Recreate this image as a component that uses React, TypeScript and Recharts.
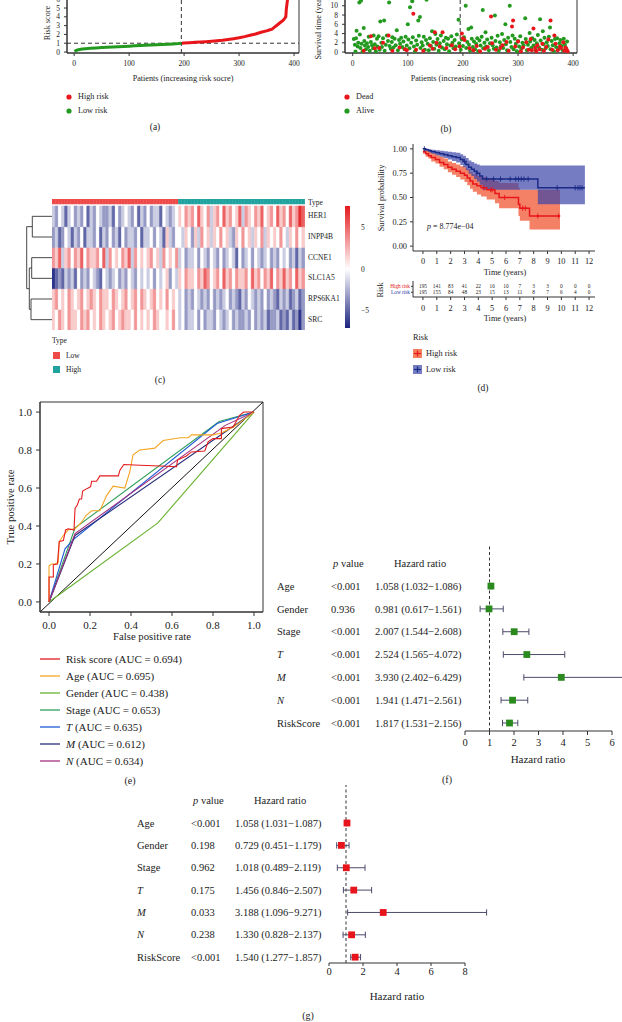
import React from 'react';
import {
  ComposedChart, BarChart, Bar, Cell, Line, Area, Scatter,
  XAxis, YAxis, ReferenceLine, ReferenceArea,
} from 'recharts';

const FONT = "'Liberation Serif', 'DejaVu Serif', 'Times New Roman', serif";
const INK = '#333';
const TXT = '#222';
const RED = '#E8151B';
const GREEN = '#239A1F';

// ---------- (a) risk score per patient (sorted) ----------
const riskLow: [number, number][] = [
  [1, 0.05], [3, 0.16], [6, 0.23], [10, 0.29], [15, 0.34], [20, 0.38], [30, 0.43], [40, 0.47],
  [50, 0.51], [60, 0.55], [70, 0.58], [80, 0.61], [90, 0.64], [100, 0.67], [110, 0.7],
  [120, 0.73], [130, 0.76], [140, 0.79], [150, 0.82], [160, 0.85], [170, 0.88], [180, 0.92],
  [190, 0.96], [195, 0.99],
];
const riskHigh: [number, number][] = [
  [196, 1.0], [200, 1.02], [210, 1.06], [220, 1.1], [230, 1.14], [240, 1.18], [250, 1.23],
  [260, 1.29], [270, 1.35], [280, 1.43], [290, 1.52], [300, 1.62], [310, 1.75], [320, 1.9],
  [330, 2.05], [340, 2.25], [350, 2.4], [355, 2.5], [360, 2.6], [365, 2.85], [370, 3.1],
  [375, 3.35], [380, 3.6], [384, 3.9], [385, 4.0], [386, 4.9], [387, 5.4], [388, 5.9],
  [389, 6.3], [390, 6.6],
];
const RISK_CUT = 195;

// ---------- (b) survival time per patient ----------
const alivePts: [number, number][] = [
  [2, 2.8], [4, 1.6], [5, 0.1], [6, 3.0], [7, 4.6], [9, 1.2], [10, 2.0], [12, 10.7], [13, 3.8], [14, 0.9],
  [15, 11.1], [16, 1.8], [18, 0.2], [20, 5.2], [21, 2.4], [22, 1.4], [24, 0.6], [26, 1.9], [28, 1.1], [29, 3.3],
  [31, 0.3], [33, 2.2], [35, 1.5], [37, 0.8], [38, 3.6], [40, 1.7], [42, 0.2], [44, 2.9], [45, 1.2], [47, 3.4],
  [49, 0.5], [50, 6.6], [52, 2.0], [53, 1.1], [55, 3.0], [57, 6.8], [58, 0.3], [60, 1.6], [62, 3.6], [64, 2.4],
  [66, 10.7], [67, 1.3], [69, 0.7], [71, 2.2], [72, 3.2], [74, 1.0], [76, 2.9], [78, 1.5], [80, 4.7], [82, 0.4],
  [84, 2.6], [86, 1.8], [88, 3.1], [90, 1.1], [92, 2.3], [94, 0.6], [96, 3.3], [98, 1.4], [100, 6.0], [101, 2.7],
  [103, 0.8], [104, 9.7], [106, 2.0], [108, 11.0], [109, 3.2], [111, 1.2], [113, 0.2], [115, 2.5], [117, 1.6], [119, 6.8],
  [120, 3.5], [122, 7.6], [123, 0.9], [125, 2.1], [127, 1.4], [129, 3.3], [131, 0.5], [133, 2.6], [134, 11.3], [136, 1.8],
  [138, 0.4], [140, 3.0], [142, 1.3], [144, 4.5], [146, 2.2], [148, 0.7], [150, 3.9], [152, 1.6], [154, 2.8], [156, 0.3],
  [158, 1.9], [160, 3.6], [162, 1.0], [165, 2.4], [167, 0.6], [169, 3.1], [171, 1.7], [173, 2.9], [175, 0.2], [177, 1.4],
  [179, 3.4], [181, 2.0], [183, 0.8], [185, 2.6], [187, 1.2], [189, 3.8], [192, 7.0], [193, 1.9], [196, 0.5], [198, 2.7],
  [200, 1.3], [202, 3.2], [205, 10.0], [206, 0.9], [208, 2.2], [210, 5.0], [211, 1.6], [213, 0.3], [215, 5.3], [216, 2.9],
  [218, 1.1], [220, 2.3], [222, 0.6], [224, 1.8], [226, 3.0], [228, 0.2], [230, 2.5], [232, 1.4], [234, 3.3], [236, 9.1],
  [237, 0.8], [239, 2.0], [241, 4.3], [242, 1.2], [244, 2.7], [247, 0.4], [249, 1.9], [252, 3.1], [254, 1.5], [256, 0.7],
  [258, 7.9], [259, 2.4], [261, 1.0], [263, 3.5], [265, 0.3], [267, 2.1], [269, 1.3], [271, 3.9], [273, 0.9], [275, 2.6],
  [277, 6.0], [278, 1.7], [280, 0.4], [282, 3.1], [285, 10.0], [286, 2.2], [288, 1.1], [290, 3.6], [292, 0.6], [294, 2.9],
  [296, 1.8], [298, 0.2], [300, 2.4], [302, 1.2], [304, 3.4], [306, 0.7], [308, 2.0], [310, 1.5], [313, 7.3], [314, 2.8],
  [316, 0.4], [318, 1.6], [321, 4.1], [322, 2.3], [324, 0.9], [326, 3.0], [328, 1.4], [330, 2.6], [332, 0.3], [334, 1.9],
  [336, 3.7], [338, 1.0], [340, 7.1], [341, 2.5], [343, 0.5], [345, 4.5], [346, 1.7], [348, 3.1], [350, 0.8], [352, 2.1],
  [354, 1.3], [356, 3.3], [358, 5.3], [359, 0.6], [361, 2.4], [363, 1.5], [365, 0.2], [367, 2.8], [369, 1.1], [371, 3.0],
  [373, 0.7], [375, 1.9], [377, 2.6], [379, 1.3], [381, 0.4], [383, 2.9], [385, 1.6], [387, 0.9], [389, 2.3],
];
const deadPts: [number, number][] = [
  [20, 0.3], [33, 3.4], [40, 0.8], [48, 0.9], [55, 2.0], [65, 3.6], [72, 0.3], [85, 1.0], [95, 0.6], [98, 0.4],
  [110, 8.3], [115, 0.5], [128, 0.3], [140, 1.4], [145, 0.7], [149, 4.3], [152, 2.0], [158, 1.2], [163, 4.3], [170, 0.9],
  [180, 1.5], [186, 0.6], [194, 1.2], [198, 4.0], [200, 3.0], [203, 2.6], [212, 0.8], [219, 0.4], [225, 1.3], [231, 0.2],
  [240, 0.7], [245, 1.1], [251, 7.7], [253, 1.9], [260, 0.5], [268, 0.9], [272, 1.5], [279, 2.2], [283, 0.3], [289, 5.5],
  [291, 6.8], [295, 1.2], [300, 2.3], [305, 0.2], [309, 1.0], [315, 2.1], [319, 0.5], [323, 2.8], [325, 0.4], [328, 5.1],
  [331, 0.9], [333, 0.2], [335, 1.5], [339, 0.6], [344, 1.8], [347, 0.3], [351, 1.1], [355, 2.7], [359, 6.8], [362, 0.5],
  [366, 3.6], [368, 1.8], [372, 0.4], [376, 1.2], [378, 0.9], [382, 2.1], [384, 0.3], [386, 1.0], [388, 0.6], [390, 0.2],
];

// ---------- (c) heatmap: expression level per column, 0 = low ... 8 = high ----------
const genes = ['HER1', 'INPP4B', 'CCNE1', 'SLC1A5', 'RPS6KA1', 'SRC'];
const heatRows: Record<string, string> = {
  HER1: '3243134232' + '4132432231' + '4234324132' + '4233143234' + '5465647546' + '3564756457' + '3654657456' + '4756475687',
  INPP4B: '2312431324' + '1332413242' + '3142332413' + '3424315324' + '4354253645' + '3546453254' + '6453546354' + '5464354645',
  CCNE1: '6573564657' + '4655647364' + '5465736454' + '5645364546' + '3423342432' + '4324234314' + '2342432342' + '3243423132',
  SLC1A5: '0121323142' + '3243214323' + '4232432434' + '3424345243' + '5465546576' + '4564756465' + '5647564657' + '4657564756',
  RPS6KA1: '5645465456' + '4565465546' + '5456456465' + '4564546454' + '3423243232' + '4232342321' + '3243232423' + '2132312312',
  SRC: '5465465546' + '5645465456' + '4565546454' + '5465445464' + '3423342423' + '3243234232' + '2324232312' + '2312131202',
};
const lowTypeCols = 40;
const colorbarTicks = [-5, 0, 5];
// dendrogram merges (leaves 0..5 are gene rows, h = merge height)
const dendroMerges = [
  { id: 6, h: 19.7, a: 0, b: 1 },
  { id: 7, h: 20.3, a: 2, b: 3 },
  { id: 8, h: 21.0, a: 4, b: 5 },
  { id: 9, h: 22.7, a: 7, b: 8 },
  { id: 10, h: 25.3, a: 6, b: 9 },
];

// ---------- (d) Kaplan-Meier ----------
const lowT = [0, 0.2, 0.4, 0.6, 0.9, 1.2, 1.5, 1.8, 2.1, 2.4, 2.7, 2.9, 3.1, 3.3, 3.5, 3.7, 3.9, 4.1, 4.3, 8.3, 11.7];
const lowS = [1.0, 0.99, 0.98, 0.97, 0.96, 0.95, 0.94, 0.93, 0.92, 0.91, 0.89, 0.87, 0.84, 0.81, 0.79, 0.77, 0.75, 0.72, 0.69, 0.6, 0.6];
const lowLo = [1.0, 0.98, 0.965, 0.95, 0.935, 0.92, 0.905, 0.89, 0.875, 0.86, 0.835, 0.81, 0.78, 0.745, 0.72, 0.69, 0.665, 0.63, 0.58, 0.43, 0.43];
const lowHi = [1.0, 1.0, 0.995, 0.99, 0.985, 0.98, 0.975, 0.97, 0.965, 0.96, 0.945, 0.93, 0.905, 0.88, 0.865, 0.85, 0.84, 0.83, 0.83, 0.83, 0.83];
const highT = [0, 0.2, 0.4, 0.6, 0.9, 1.2, 1.5, 1.8, 2.1, 2.4, 2.7, 3.0, 3.2, 3.4, 3.6, 3.9, 4.2, 4.6, 5.2, 5.5, 6.9, 7.0, 7.7, 9.9];
const highS = [0.97, 0.95, 0.93, 0.91, 0.89, 0.86, 0.84, 0.81, 0.79, 0.77, 0.75, 0.73, 0.7, 0.67, 0.64, 0.62, 0.6, 0.58, 0.54, 0.5, 0.43, 0.39, 0.31, 0.31];
const highLo = [0.95, 0.92, 0.9, 0.87, 0.85, 0.815, 0.79, 0.76, 0.735, 0.71, 0.685, 0.66, 0.625, 0.59, 0.56, 0.53, 0.51, 0.48, 0.44, 0.39, 0.31, 0.26, 0.17, 0.17];
const highHi = [0.99, 0.98, 0.97, 0.955, 0.94, 0.92, 0.9, 0.87, 0.855, 0.84, 0.82, 0.81, 0.79, 0.76, 0.74, 0.72, 0.71, 0.7, 0.67, 0.65, 0.6, 0.58, 0.58, 0.58];
const lowCensor: [number, number][] = [
  [0.1, 1.0], [3.0, 0.87], [3.9, 0.75], [4.6, 0.69], [5.1, 0.69], [5.6, 0.69], [6.3, 0.69], [6.7, 0.69], [6.9, 0.69],
  [7.1, 0.69], [7.3, 0.69], [7.6, 0.69], [9.7, 0.6], [11.0, 0.6], [11.2, 0.6], [11.35, 0.6], [11.5, 0.6],
];
const highCensor: [number, number][] = [
  [4.4, 0.6], [4.9, 0.58], [5.0, 0.58], [5.9, 0.5], [7.2, 0.39], [7.4, 0.39], [8.3, 0.31], [9.8, 0.31],
];
const timeTicks = [0, 1, 2, 3, 4, 5, 6, 7, 8, 9, 10, 11, 12];
const highAtRisk = [195, 141, 83, 41, 22, 16, 10, 7, 3, 3, 0, 0, 0];
const lowAtRisk = [195, 155, 84, 48, 23, 15, 13, 11, 8, 7, 6, 4, 0];

// ---------- (e) ROC curves, [FPR, TPR] ----------
const rocRisk: [number, number][] = [
  [0, 0], [0, 0.131], [0.021, 0.131], [0.021, 0.196], [0.041, 0.2], [0.05, 0.318], [0.07, 0.323], [0.081, 0.379],
  [0.094, 0.385], [0.122, 0.379], [0.127, 0.493], [0.138, 0.51], [0.148, 0.542], [0.159, 0.542], [0.164, 0.584],
  [0.187, 0.598], [0.203, 0.607], [0.208, 0.636], [0.232, 0.636], [0.248, 0.664], [0.297, 0.664], [0.338, 0.664],
  [0.346, 0.694], [0.365, 0.724], [0.443, 0.72], [0.573, 0.715], [0.622, 0.712], [0.627, 0.747], [0.67, 0.769],
  [0.695, 0.79], [0.76, 0.795], [0.776, 0.843], [0.8, 0.86], [0.841, 0.86], [0.841, 0.913], [0.898, 0.921],
  [0.93, 0.983], [0.95, 1.0], [1, 1],
];
const rocAge: [number, number][] = [
  [0, 0], [0, 0.19], [0.013, 0.2], [0.03, 0.2], [0.045, 0.21], [0.05, 0.318], [0.07, 0.35], [0.094, 0.38],
  [0.127, 0.385], [0.159, 0.42], [0.18, 0.455], [0.208, 0.48], [0.248, 0.48], [0.281, 0.56], [0.313, 0.61],
  [0.37, 0.6], [0.394, 0.685], [0.41, 0.775], [0.443, 0.8], [0.516, 0.81], [0.557, 0.85], [0.64, 0.865],
  [0.68, 0.865], [0.695, 0.88], [0.8, 0.88], [0.84, 0.89], [0.898, 0.92], [0.95, 0.96], [1, 1],
];
const rocGender: [number, number][] = [[0, 0], [0.53, 0.415], [1, 1]];
const rocStage: [number, number][] = [[0, 0], [0.127, 0.39], [0.83, 0.95], [1, 1]];
const rocT: [number, number][] = [[0, 0], [0.078, 0.28], [0.12, 0.33], [0.82, 0.94], [1, 1]];
const rocM: [number, number][] = [[0, 0], [0.127, 0.35], [1, 1]];
const rocN: [number, number][] = [[0, 0], [0.127, 0.36], [0.86, 0.93], [1, 1]];
const rocSeries = [
  { name: 'Risk score', italic: false, auc: '0.694', color: '#E41A1C', pts: rocRisk },
  { name: 'Age', italic: false, auc: '0.695', color: '#F5A623', pts: rocAge },
  { name: 'Gender', italic: false, auc: '0.438', color: '#66B22E', pts: rocGender },
  { name: 'Stage', italic: false, auc: '0.653', color: '#2F9F5A', pts: rocStage },
  { name: 'T', italic: true, auc: '0.635', color: '#1F5BD6', pts: rocT },
  { name: 'M', italic: true, auc: '0.612', color: '#2A2E7A', pts: rocM },
  { name: 'N', italic: true, auc: '0.634', color: '#A2307E', pts: rocN },
];
const rocTicks = [0, 0.2, 0.4, 0.6, 0.8, 1.0];

// ---------- (f), (g) forest plots ----------
const forestNames = ['Age', 'Gender', 'Stage', 'T', 'M', 'N', 'RiskScore'];
const uniP = ['<0.001', '0.936', '<0.001', '<0.001', '<0.001', '<0.001', '<0.001'];
const uniHr = [1.058, 0.981, 2.007, 2.524, 3.93, 1.941, 1.817];
const uniLo = [1.032, 0.617, 1.544, 1.565, 2.402, 1.471, 1.531];
const uniHi = [1.086, 1.561, 2.608, 4.072, 6.429, 2.561, 2.156];
const multiP = ['<0.001', '0.198', '0.962', '0.175', '0.033', '0.238', '<0.001'];
const multiHr = [1.058, 0.729, 1.018, 1.456, 3.188, 1.33, 1.54];
const multiLo = [1.031, 0.451, 0.489, 0.846, 1.096, 0.828, 1.277];
const multiHi = [1.087, 1.179, 2.119, 2.507, 9.271, 2.137, 1.857];

// ---------- helpers ----------
type TxtProps = {
  x: number; y: number; size: number; anchor?: 'start' | 'middle' | 'end';
  rotate?: boolean; color?: string; italic?: boolean; children: React.ReactNode;
};
function Txt({ x, y, size, anchor = 'start', rotate = false, color = TXT, italic = false, children }: TxtProps) {
  const tx = anchor === 'start' ? '0' : anchor === 'middle' ? '-50%' : '-100%';
  return (
    <div
      style={{
        position: 'absolute', left: x, top: y, fontSize: size, lineHeight: 1, whiteSpace: 'nowrap', color,
        fontStyle: italic ? 'italic' : 'normal',
        transform: rotate ? 'translate(-50%, -50%) rotate(-90deg)' : `translate(${tx}, -50%)`,
      }}
    >
      {children}
    </div>
  );
}

const Place = ({ x, y, children }: { x: number; y: number; children: React.ReactNode }) => (
  <div style={{ position: 'absolute', left: x, top: y }}>{children}</div>
);

const toXY = (pts: [number, number][]) => pts.map(([x, y]) => ({ x, y }));

function heatColor(v: number) {
  const t = Math.min(1, Math.abs(v) / 7);
  const end = v >= 0 ? [227, 26, 28] : [26, 35, 126];
  const c = end.map((e) => Math.round(255 + (e - 255) * t));
  return `rgb(${c[0]},${c[1]},${c[2]})`;
}

const dot = (color: string, r: number) => (p: any) => <circle cx={p.cx} cy={p.cy} r={r} fill={color} />;

// ---------- panels ----------
function RiskPanel() {
  const xDom: [number, number] = [-13, 409];
  const yDom: [number, number] = [-0.11, 6.82];
  return (
    <Place x={0} y={-18}>
      <ComposedChart width={310} height={100} margin={{ top: 10, right: 11, bottom: 0, left: 0 }}>
        <XAxis type="number" dataKey="x" domain={xDom} ticks={[0, 100, 200, 300, 400]} interval={0}
          height={29} tickSize={3} tickMargin={5} stroke={INK} tick={{ fontSize: 7.5, fill: TXT }} />
        <YAxis type="number" dataKey="y" domain={yDom} ticks={[0, 1, 2, 3, 4, 5, 6]} interval={0}
          width={67} tickSize={3} tickMargin={4} stroke={INK} tick={{ fontSize: 7.5, fill: TXT }} />
        <ReferenceArea x1={xDom[0]} x2={xDom[1]} y1={yDom[0]} y2={yDom[1]} fill="none" stroke={INK} ifOverflow="visible" />
        <ReferenceLine y={1} stroke={INK} strokeDasharray="4 3" />
        <ReferenceLine x={RISK_CUT} stroke={INK} strokeDasharray="4 3" />
        <Line data={toXY(riskLow)} dataKey="y" stroke={GREEN} strokeWidth={3} dot={false} isAnimationActive={false} />
        <Line data={toXY(riskHigh)} dataKey="y" stroke={RED} strokeWidth={3} dot={false} isAnimationActive={false} />
      </ComposedChart>
    </Place>
  );
}

function SurvivalScatterPanel() {
  const xDom: [number, number] = [-14, 407];
  const yDom: [number, number] = [-0.2, 12.11];
  return (
    <Place x={300} y={-14}>
      <ComposedChart width={322} height={96} margin={{ top: 10, right: 45, bottom: 0, left: 0 }}>
        <XAxis type="number" dataKey="x" domain={xDom} ticks={[0, 100, 200, 300, 400]} interval={0}
          height={29} tickSize={3} tickMargin={5} stroke={INK} tick={{ fontSize: 7.5, fill: TXT }} />
        <YAxis type="number" dataKey="y" domain={yDom} ticks={[0, 2, 4, 6, 8, 10, 12]} interval={0}
          width={45} tickSize={3} tickMargin={4} stroke={INK} tick={{ fontSize: 7.5, fill: TXT }} />
        <ReferenceArea x1={xDom[0]} x2={xDom[1]} y1={yDom[0]} y2={yDom[1]} fill="none" stroke={INK} ifOverflow="visible" />
        <ReferenceLine x={RISK_CUT} stroke={INK} strokeDasharray="4 3" />
        <Scatter data={toXY(alivePts)} shape={dot(GREEN, 2)} isAnimationActive={false} />
        <Scatter data={toXY(deadPts)} shape={dot(RED, 2)} isAnimationActive={false} />
      </ComposedChart>
    </Place>
  );
}

function HeatmapPanel() {
  const vals: Record<string, number[]> = {};
  genes.forEach((g) => { vals[g] = heatRows[g].split('').map((c) => (Number(c) - 4) * 1.6); });
  const nCols = Math.min(...genes.map((g) => vals[g].length));
  const cols = Array.from({ length: nCols }, (_, i) => {
    const o: Record<string, number> = { i, gap: 0.1, type: 0.24 };
    genes.forEach((g) => { o[g] = 1; });
    return o;
  });
  const stackOrder = [...genes].reverse();

  // dendrogram segments
  const pos: Record<number, { h: number; y: number }> = {};
  genes.forEach((_, i) => { pos[i] = { h: 0, y: i + 0.5 }; });
  const segs: { x1: number; y1: number; x2: number; y2: number }[] = [];
  dendroMerges.forEach((m) => {
    const A = pos[m.a];
    const B = pos[m.b];
    segs.push({ x1: m.h, y1: A.y, x2: m.h, y2: B.y });
    segs.push({ x1: A.h, y1: A.y, x2: m.h, y2: A.y });
    segs.push({ x1: B.h, y1: B.y, x2: m.h, y2: B.y });
    pos[m.id] = { h: m.h, y: (A.y + B.y) / 2 };
  });

  return (
    <>
      <Place x={52} y={199}>
        <BarChart width={253} height={131} data={cols} margin={{ top: 0, right: 0, bottom: 0, left: 0 }}
          barCategoryGap={0} barGap={0}>
          <XAxis dataKey="i" hide />
          <YAxis type="number" domain={[0, 6.34]} hide />
          {stackOrder.map((g) => (
            <Bar key={g} dataKey={g} stackId="s" isAnimationActive={false}>
              {cols.map((_, j) => {
                const c = heatColor(vals[g][j]);
                return <Cell key={j} fill={c} stroke={c} strokeWidth={0.6} />;
              })}
            </Bar>
          ))}
          <Bar dataKey="gap" stackId="s" fill="none" isAnimationActive={false} />
          <Bar dataKey="type" stackId="s" isAnimationActive={false}>
            {cols.map((_, j) => {
              const c = j < lowTypeCols ? '#EE4A4A' : '#20A29F';
              return <Cell key={j} fill={c} stroke={c} strokeWidth={0.6} />;
            })}
          </Bar>
        </BarChart>
      </Place>

      <Place x={25} y={206}>
        <ComposedChart width={27} height={124} margin={{ top: 0, right: 0, bottom: 0, left: 0 }}>
          <XAxis type="number" dataKey="h" domain={[0, 27]} reversed hide />
          <YAxis type="number" dataKey="y" domain={[0, 6]} reversed hide />
          <Scatter data={genes.map((_, i) => ({ h: 0, y: i + 0.5 }))} shape={() => <g />} isAnimationActive={false} />
          {segs.map((s, k) => (
            <ReferenceLine key={k} segment={[{ x: s.x1, y: s.y1 }, { x: s.x2, y: s.y2 }]} stroke={INK}
              strokeWidth={0.9} ifOverflow="visible" />
          ))}
        </ComposedChart>
      </Place>

      <Place x={340} y={200}>
        <BarChart width={40} height={135} data={[{ k: 'c', v: [-7.1, 7.6] }]}
          margin={{ top: 6, right: 0, bottom: 7, left: 5 }} barCategoryGap={0}>
          <defs>
            <linearGradient id="cbGrad" x1="0" y1="0" x2="0" y2="1">
              <stop offset="0" stopColor="#E31A1C" />
              <stop offset="0.517" stopColor="#FFFFFF" />
              <stop offset="1" stopColor="#1A237E" />
            </linearGradient>
          </defs>
          <XAxis dataKey="k" hide />
          <YAxis orientation="right" type="number" domain={[-7.1, 7.6]} ticks={colorbarTicks} interval={0}
            width={30} axisLine={false} tickLine={false} tickMargin={5}
            tickFormatter={(v: number) => (v < 0 ? `\u2212${Math.abs(v)}` : `${v}`)}
            tick={{ fontSize: 7.5, fill: TXT }} />
          <Bar dataKey="v" fill="url(#cbGrad)" isAnimationActive={false} />
        </BarChart>
      </Place>

      <Txt x={308} y={203} size={7.5}>Type</Txt>
      {genes.map((g, i) => (
        <Txt key={g} x={308} y={216.3 + i * 20.67} size={7.5}>{g}</Txt>
      ))}
      <Txt x={52} y={341} size={7.5}>Type</Txt>
      <div style={{ position: 'absolute', left: 53, top: 352, width: 7, height: 7, background: '#EE4A4A' }} />
      <Txt x={66} y={355.5} size={7.5}>Low</Txt>
      <div style={{ position: 'absolute', left: 53, top: 366, width: 7, height: 7, background: '#20A29F' }} />
      <Txt x={66} y={369.5} size={7.5}>High</Txt>
    </>
  );
}

const crossShape = (color: string) => (p: any) => (
  <g stroke={color} strokeWidth={0.9}>
    <line x1={p.cx} y1={p.cy - 2.6} x2={p.cx} y2={p.cy + 2.6} />
    <line x1={p.cx - 1.8} y1={p.cy} x2={p.cx + 1.8} y2={p.cy} />
  </g>
);

function KmPanel() {
  const LOW_LINE = '#1B2A86';
  const km = (t: number[], s: number[], lo: number[], hi: number[]) =>
    t.map((tt, i) => ({ t: tt, s: s[i], band: [lo[i], hi[i]] }));
  const lowKm = km(lowT, lowS, lowLo, lowHi);
  const highKm = km(highT, highS, highLo, highHi);
  const xDom: [number, number] = [-0.72, 12.43];
  const tableData = (row: number, arr: number[]) => timeTicks.map((t, i) => ({ t, row, n: arr[i] }));
  const numShape = (p: any) => (
    <text x={p.cx} y={p.cy} dy="0.35em" textAnchor="middle" fontSize={5.3} fill={TXT}>{p.payload.n}</text>
  );
  const rowTick = (p: any) => {
    const hi = p.payload.value === 1;
    return (
      <text x={p.x} y={p.y} dy="0.35em" textAnchor="end" fontSize={5.3} fill={hi ? RED : '#2B3AA8'}>
        {hi ? 'High risk' : 'Low risk'}
      </text>
    );
  };
  return (
    <>
      <Place x={330} y={130}>
        <ComposedChart width={292} height={140} margin={{ top: 14, right: 27, bottom: 0, left: 0 }}>
          <XAxis type="number" dataKey="t" domain={xDom} ticks={timeTicks} interval={0} height={19}
            tickSize={3} tickMargin={4} stroke={INK} tick={{ fontSize: 8.3, fill: TXT }} />
          <YAxis type="number" dataKey="s" domain={[-0.05, 1.05]} ticks={[0, 0.25, 0.5, 0.75, 1]} interval={0}
            width={83} tickSize={3} tickMargin={3} stroke={INK} tick={{ fontSize: 8.3, fill: TXT }}
            tickFormatter={(v: number) => v.toFixed(2)} />
          <Area data={highKm} dataKey="band" type="stepAfter" fill="#F04A24" fillOpacity={0.7} stroke="none"
            isAnimationActive={false} />
          <Area data={lowKm} dataKey="band" type="stepAfter" fill="#3A44A8" fillOpacity={0.7} stroke="none"
            isAnimationActive={false} />
          <Line data={highKm} dataKey="s" type="stepAfter" stroke={RED} strokeWidth={1.5} dot={false}
            isAnimationActive={false} />
          <Line data={lowKm} dataKey="s" type="stepAfter" stroke={LOW_LINE} strokeWidth={1.5} dot={false}
            isAnimationActive={false} />
          <Scatter data={highCensor.map(([t, s]) => ({ t, s }))} shape={crossShape(RED)} isAnimationActive={false} />
          <Scatter data={lowCensor.map(([t, s]) => ({ t, s }))} shape={crossShape(LOW_LINE)} isAnimationActive={false} />
        </ComposedChart>
      </Place>
      <Txt x={382} y={197.5} size={8.3} rotate>Survival probability</Txt>
      <Txt x={505} y={272.5} size={8.3} anchor="middle">Time (years)</Txt>
      <Txt x={427} y={227} size={8}><i>p</i> = 8.774e−04</Txt>

      <Place x={330} y={278}>
        <ComposedChart width={292} height={40} margin={{ top: 3, right: 27, bottom: 0, left: 0 }}>
          <XAxis type="number" dataKey="t" domain={xDom} ticks={timeTicks} interval={0} height={21}
            tickSize={3} tickMargin={5} stroke={INK} tick={{ fontSize: 8.3, fill: TXT }} />
          <YAxis type="number" dataKey="row" domain={[-0.8, 1.9]} ticks={[0, 1]} interval={0} width={83}
            tickSize={2} tickMargin={1} stroke={INK} tick={rowTick} />
          <Scatter data={tableData(1, highAtRisk)} shape={numShape} isAnimationActive={false} />
          <Scatter data={tableData(0, lowAtRisk)} shape={numShape} isAnimationActive={false} />
        </ComposedChart>
      </Place>
      <Txt x={381} y={290} size={8.3} rotate>Risk</Txt>
      <Txt x={505} y={319} size={8.3} anchor="middle">Time (years)</Txt>

      <Txt x={413} y={338} size={8.3}>Risk</Txt>
      {[{ lbl: 'High risk', fill: '#F5805D', c: RED, y: 349 }, { lbl: 'Low risk', fill: '#757CC2', c: LOW_LINE, y: 365 }].map((e) => (
        <React.Fragment key={e.lbl}>
          <svg style={{ position: 'absolute', left: 413, top: e.y }} width={9} height={9}>
            <rect x={0} y={0} width={9} height={9} fill={e.fill} />
            <line x1={1} y1={4.5} x2={8} y2={4.5} stroke={e.c} strokeWidth={1.2} />
            <line x1={4.5} y1={1.5} x2={4.5} y2={7.5} stroke={e.c} strokeWidth={1.2} />
          </svg>
          <Txt x={426} y={e.y + 4.5} size={8.3}>{e.lbl}</Txt>
        </React.Fragment>
      ))}
    </>
  );
}

function RocPanel() {
  const xDom: [number, number] = [-0.044, 1.044];
  const yDom: [number, number] = [-0.053, 1.053];
  const drawOrder = [2, 3, 4, 5, 6, 1, 0];
  return (
    <>
      <Place x={0} y={395}>
        <ComposedChart width={270} height={240} margin={{ top: 7, right: 7, bottom: 0, left: 0 }}>
          <XAxis type="number" dataKey="fpr" domain={xDom} ticks={rocTicks} interval={0} height={23}
            tickSize={4} tickMargin={5} stroke={INK} tick={{ fontSize: 11, fill: TXT }}
            tickFormatter={(v: number) => v.toFixed(1)} />
          <YAxis type="number" dataKey="tpr" domain={yDom} ticks={rocTicks} interval={0} width={40}
            tickSize={4} tickMargin={4} stroke={INK} tick={{ fontSize: 11, fill: TXT }}
            tickFormatter={(v: number) => v.toFixed(1)} />
          <ReferenceArea x1={xDom[0]} x2={xDom[1]} y1={yDom[0]} y2={yDom[1]} fill="none" stroke={INK} ifOverflow="visible" />
          <ReferenceLine segment={[{ x: xDom[0], y: yDom[0] }, { x: xDom[1], y: yDom[1] }]} stroke="#111" strokeWidth={1} />
          {drawOrder.map((k) => {
            const s = rocSeries[k];
            return (
              <Line key={s.name} data={s.pts.map(([fpr, tpr]) => ({ fpr, tpr }))} dataKey="tpr" type="linear"
                stroke={s.color} strokeWidth={1.1} dot={false} isAnimationActive={false} />
            );
          })}
        </ComposedChart>
      </Place>
      <Txt x={10} y={507} size={10.7} rotate>True positive rate</Txt>
      <Txt x={152} y={636} size={10.7} anchor="middle">False positive rate</Txt>
      {rocSeries.map((s, i) => (
        <React.Fragment key={s.name}>
          <svg style={{ position: 'absolute', left: 40, top: 656 + i * 17 }} width={20} height={6}>
            <line x1={0} y1={3} x2={20} y2={3} stroke={s.color} strokeWidth={1.3} />
          </svg>
          <Txt x={66} y={659 + i * 17} size={11}>
            {s.italic ? <i>{s.name}</i> : s.name} (AUC = {s.auc})
          </Txt>
        </React.Fragment>
      ))}
    </>
  );
}

type ForestProps = {
  left: number; top: number; width: number; height: number; axisW: number; right: number;
  xDom: [number, number]; xTicks: number[]; yDom: [number, number]; color: string;
  p: string[]; hr: number[]; lo: number[]; hi: number[]; tickSize: number; tickMargin: number;
};
function Forest({ left, top, width, height, axisW, right, xDom, xTicks, yDom, color, p, hr, lo, hi, tickSize, tickMargin }: ForestProps) {
  const CI = '#4B4B6B';
  const rows = forestNames.map((name, i) => ({ name, p: p[i], hr: hr[i], lo: lo[i], hi: hi[i], y: i }));
  const tick = (props: any) => {
    const { y, payload } = props;
    const i = payload.value as number;
    if (i < 0) {
      return (
        <g fontSize={10.5} fill={TXT}>
          <text x={63} y={y} dy="0.35em"><tspan fontStyle="italic">p</tspan> value</text>
          <text x={124} y={y} dy="0.35em">Hazard ratio</text>
        </g>
      );
    }
    const r = rows[i];
    const it = r.name.length === 1;
    return (
      <g fontSize={10.5} fill={TXT}>
        <text x={7} y={y} dy="0.35em" fontStyle={it ? 'italic' : 'normal'}>{r.name}</text>
        <text x={61} y={y} dy="0.35em">{r.p}</text>
        <text x={105} y={y} dy="0.35em">{`${r.hr.toFixed(3)} (${r.lo.toFixed(3)}\u2212${r.hi.toFixed(3)})`}</text>
      </g>
    );
  };
  const square = (pp: any) => <rect x={pp.cx - 3.4} y={pp.cy - 3.4} width={6.8} height={6.8} fill={color} />;
  const cap = 0.14;
  return (
    <Place x={left} y={top}>
      <ComposedChart width={width} height={height} margin={{ top: 5, right, bottom: 0, left: 0 }}>
        <XAxis type="number" dataKey="x" domain={xDom} ticks={xTicks} interval={0} height={35}
          tickSize={tickSize} tickMargin={tickMargin} stroke={INK} tick={{ fontSize: 10.5, fill: TXT }} />
        <YAxis type="number" dataKey="y" domain={yDom} reversed ticks={[-1, 0, 1, 2, 3, 4, 5, 6]} interval={0}
          width={axisW} axisLine={false} tickLine={false} tick={tick} />
        <ReferenceLine x={1} stroke={INK} strokeDasharray="3 2.5" />
        {rows.map((r) => (
          <React.Fragment key={r.name}>
            <ReferenceLine segment={[{ x: r.lo, y: r.y }, { x: r.hi, y: r.y }]} stroke={CI} strokeWidth={1} ifOverflow="visible" />
            <ReferenceLine segment={[{ x: r.lo, y: r.y - cap }, { x: r.lo, y: r.y + cap }]} stroke={CI} strokeWidth={1} ifOverflow="visible" />
            <ReferenceLine segment={[{ x: r.hi, y: r.y - cap }, { x: r.hi, y: r.y + cap }]} stroke={CI} strokeWidth={1} ifOverflow="visible" />
          </React.Fragment>
        ))}
        <Scatter data={rows.map((r) => ({ x: r.hr, y: r.y }))} shape={square} isAnimationActive={false} />
      </ComposedChart>
    </Place>
  );
}

export default function App() {
  return (
    <div style={{ position: 'absolute', left: 0, top: 0, width: 622, height: 1022, overflow: 'hidden', background: '#fff', fontFamily: FONT, color: TXT }}>
      <RiskPanel />
      <Txt x={48} y={22.5} size={8.2} rotate>Risk score</Txt>
      <Txt x={183} y={79} size={8.2} anchor="middle">Patients (increasing risk socre)</Txt>
      <svg style={{ position: 'absolute', left: 66, top: 94 }} width={6} height={20}>
        <circle cx={3} cy={3} r={2.6} fill={RED} />
        <circle cx={3} cy={17} r={2.6} fill={GREEN} />
      </svg>
      <Txt x={78} y={97} size={8.2}>High risk</Txt>
      <Txt x={78} y={111} size={8.2}>Low risk</Txt>
      <Txt x={155} y={128} size={9.5} anchor="middle">(a)</Txt>

      <SurvivalScatterPanel />
      <Txt x={319} y={24.5} size={8.2} rotate>Survival time (years)</Txt>
      <Txt x={461} y={79} size={8.2} anchor="middle">Patients (increasing risk socre)</Txt>
      <svg style={{ position: 'absolute', left: 344, top: 94 }} width={6} height={20}>
        <circle cx={3} cy={3} r={2.6} fill={RED} />
        <circle cx={3} cy={17} r={2.6} fill={GREEN} />
      </svg>
      <Txt x={356} y={97} size={8.2}>Dead</Txt>
      <Txt x={356} y={111} size={8.2}>Alive</Txt>
      <Txt x={446} y={130} size={9.5} anchor="middle">(b)</Txt>

      <HeatmapPanel />
      <Txt x={160} y={381} size={9.5} anchor="middle">(c)</Txt>

      <KmPanel />
      <Txt x={483} y={389} size={9.5} anchor="middle">(d)</Txt>

      <RocPanel />
      <Txt x={130} y={781} size={10} anchor="middle">(e)</Txt>

      <Forest left={270} top={540} width={352} height={226} axisW={195} right={10}
        xDom={[0, 6]} xTicks={[0, 1, 2, 3, 4, 5, 6]} yDom={[-1.8, 6.35]} color="#2A8A1E"
        p={uniP} hr={uniHr} lo={uniLo} hi={uniHi} tickSize={4} tickMargin={4} />
      <Txt x={538} y={759} size={11} anchor="middle">Hazard ratio</Txt>
      <Txt x={447} y={780} size={10} anchor="middle">(f)</Txt>

      <Forest left={130} top={780} width={370} height={218} axisW={199} right={35}
        xDom={[0, 8]} xTicks={[0, 2, 4, 6, 8]} yDom={[-1.7, 6.26]} color="#E8141B"
        p={multiP} hr={multiHr} lo={multiLo} hi={multiHi} tickSize={3} tickMargin={2} />
      <Txt x={397} y={996} size={11} anchor="middle">Hazard ratio</Txt>
      <Txt x={308} y={1016} size={10} anchor="middle">(g)</Txt>
    </div>
  );
}
